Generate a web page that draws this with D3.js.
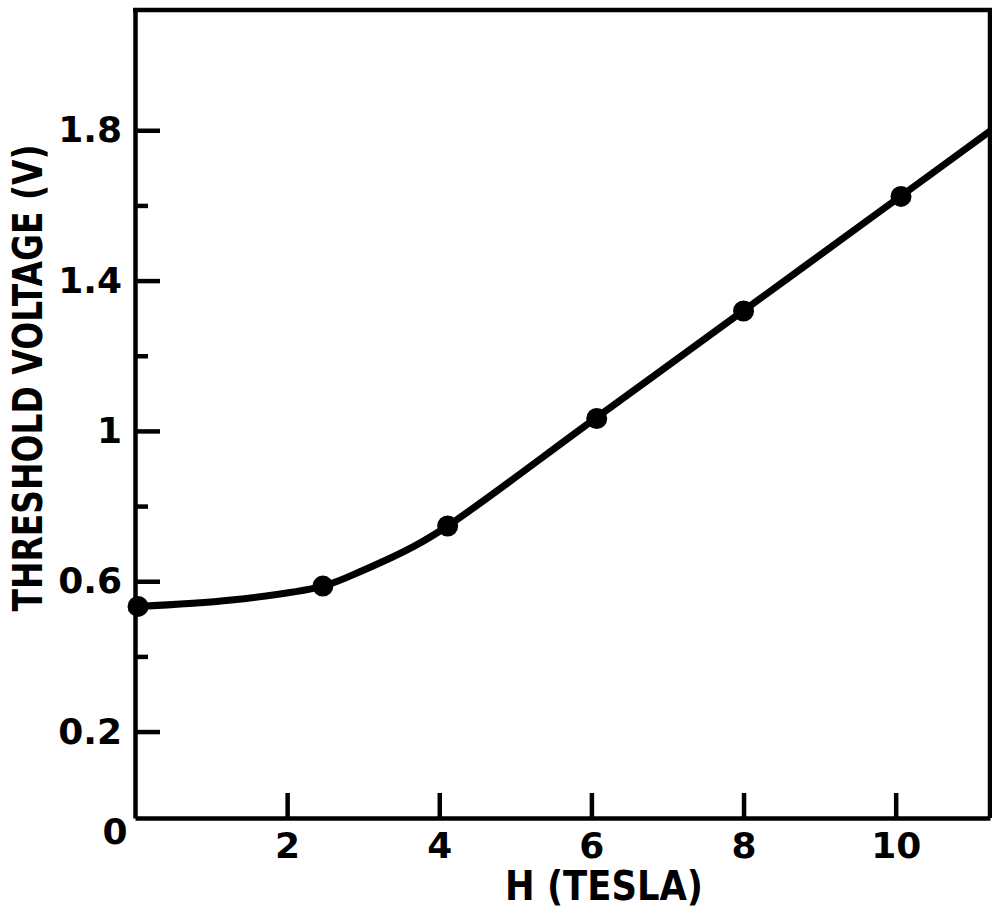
<!DOCTYPE html>
<html>
<head>
<meta charset="utf-8">
<script src="https://cdn.jsdelivr.net/npm/d3@7"></script>
<style>
  body { margin: 0; background: #fff; }
  svg { display: block; }
  .axis text { font-family: "DejaVu Sans", sans-serif; font-weight: bold; font-size: 36px; fill: #000; }
  .axis path, .axis line { stroke: #000; stroke-width: 4.5; }
</style>
</head>
<body>
<svg width="992" height="911"></svg>
<script>
// measured points
var fieldT = [0.04, 2.47, 4.11, 6.07, 8.0, 10.07];
var thresholdV = [0.533, 0.587, 0.747, 1.033, 1.319, 1.624];

// drawn fit curve
var fitT = [0.04, 1.27, 2.47, 3.01, 3.66, 4.11, 6.07, 8.0, 10.07, 11.24];
var fitV = [0.533, 0.550, 0.587, 0.630, 0.692, 0.747, 1.036, 1.320, 1.625, 1.798];

var xTicks = [2, 4, 6, 8, 10];
var yMajor = [0.2, 0.6, 1, 1.4, 1.8];
var yMinor = [0.4, 0.8, 1.2, 1.6];
var yLabels = ["0.2", "0.6", "1", "1.4", "1.8"];

var svg = d3.select("svg");
var margin = { left: 135, right: 990, top: 10, bottom: 818 };

var x = d3.scaleLinear().domain([0, 11.24]).range([margin.left, margin.right]);
var y = d3.scaleLinear().domain([-0.03, 2.12]).range([margin.bottom, margin.top]);

// frame top + right
svg.append("path")
    .attr("d", `M${margin.left - 2},${margin.top}H${margin.right}V${margin.bottom}`)
    .attr("fill", "none")
    .attr("stroke", "#000")
    .attr("stroke-width", 4.5);

svg.append("g")
    .attr("class", "axis x")
    .attr("transform", `translate(0, ${margin.bottom})`)
    .call(d3.axisBottom(x).tickValues(xTicks).tickSize(-25).tickSizeOuter(0).tickPadding(14).tickFormat(d3.format("d")));

svg.append("g")
    .attr("class", "axis y")
    .attr("transform", `translate(${margin.left}, 0)`)
    .call(d3.axisLeft(y).tickValues(yMajor).tickSize(-25).tickSizeOuter(0).tickPadding(13)
        .tickFormat((d, i) => yLabels[i]));

svg.append("g")
    .attr("class", "axis y minor")
    .attr("transform", `translate(${margin.left}, 0)`)
    .call(d3.axisLeft(y).tickValues(yMinor).tickSize(-13).tickSizeOuter(0).tickFormat(""))
    .select(".domain").remove();

// shared origin label
svg.append("text")
    .attr("x", 115)
    .attr("y", 844)
    .attr("text-anchor", "middle")
    .attr("font-family", "DejaVu Sans, sans-serif")
    .attr("font-weight", "bold")
    .attr("font-size", 36)
    .text("0");

// axis titles
svg.append("text")
    .attr("x", 604)
    .attr("y", 900)
    .attr("text-anchor", "middle")
    .attr("font-family", "DejaVu Sans, sans-serif")
    .attr("font-weight", "bold")
    .attr("font-size", 40)
    .attr("textLength", 198)
    .attr("lengthAdjust", "spacingAndGlyphs")
    .text("H (TESLA)");

svg.append("text")
    .attr("transform", "translate(42, 378) rotate(-90)")
    .attr("text-anchor", "middle")
    .attr("font-family", "DejaVu Sans, sans-serif")
    .attr("font-weight", "bold")
    .attr("font-size", 40)
    .attr("textLength", 467)
    .attr("lengthAdjust", "spacingAndGlyphs")
    .text("THRESHOLD VOLTAGE (V)");

// fit curve
var fit = fitT.map((t, i) => ({ t: t, v: fitV[i] }));
svg.append("path")
    .datum(fit)
    .attr("fill", "none")
    .attr("stroke", "#000")
    .attr("stroke-width", 7)
    .attr("d", d3.line().x(d => x(d.t)).y(d => y(d.v)).curve(d3.curveCatmullRom.alpha(0.5)));

// data points
var pts = fieldT.map((t, i) => ({ t: t, v: thresholdV[i] }));
svg.append("g")
    .selectAll("circle")
    .data(pts)
    .enter().append("circle")
        .attr("cx", d => x(d.t))
        .attr("cy", d => y(d.v))
        .attr("r", 10.5)
        .attr("fill", "#000");
</script>
</body>
</html>
